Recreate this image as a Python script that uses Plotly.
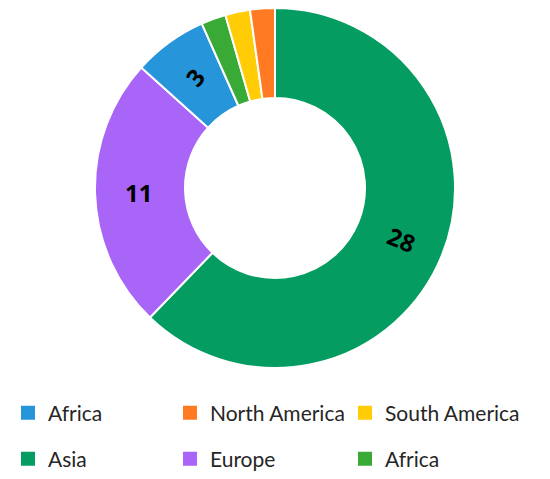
import math
import plotly.graph_objects as go

# slices, clockwise from 12 o'clock
labels = ["Asia", "Europe", "Africa", "Africa ", "South America", "North America"]
values = [28, 11, 3, 1, 1, 1]
colors = ["#059C62", "#A865F7", "#2795D9", "#3AAA37", "#FFCC05", "#FF7A22"]
shown = ["28", "11", "3", "", "", ""]
label_angles = [22, 0, -50, 0, 0, 0]

# legend entries in reading order (3 per row), as in the reference
legend_names = ["Africa", "North America", "South America", "Asia", "Europe", "Africa"]
legend_colors = ["#2795D9", "#FF7A22", "#FFCC05", "#059C62", "#A865F7", "#3AAA37"]

W, H = 550, 479
cx, cy, r_out = 267, 180, 180  # donut centre / radius in px
col_x = [0, 162, 337]          # legend column left edges (px)
row_y = [405, 451]             # legend row centres (px from top)

fig = go.Figure()

fig.add_trace(go.Pie(
    labels=labels,
    values=values,
    textinfo="none",
    hole=0.5,
    sort=False,
    direction="clockwise",
    rotation=0,
    marker=dict(colors=colors, line=dict(color="white", width=2)),
    domain=dict(x=[(cx - r_out) / W, (cx + r_out) / W],
                y=[(H - cy - r_out) / H, (H - cy + r_out) / H]),
    showlegend=False,
))

# value labels in the middle of the ring
total = sum(values)
acc = 0
for v, t, ang in zip(values, shown, label_angles):
    mid = (acc + v / 2) / total * 360
    acc += v
    if not t:
        continue
    rad = math.radians(mid)
    r_mid = r_out * 0.76
    fig.add_annotation(
        x=(cx + r_mid * math.sin(rad)) / W,
        y=(H - cy + r_mid * math.cos(rad)) / H,
        xref="paper", yref="paper", xanchor="center", yanchor="middle",
        text=t, showarrow=False, textangle=ang,
        font=dict(family="Open Sans", size=24, color="black", weight="bold"),
    )

# one small legend per entry so the grid spacing matches
layout_legends = {}
for i, (name, col) in enumerate(zip(legend_names, legend_colors)):
    key = "legend" if i == 0 else f"legend{i + 1}"
    fig.add_trace(go.Scatter(
        x=[None], y=[None], mode="markers", name=name,
        marker=dict(symbol="square", size=14, color=col),
        legend=key, showlegend=True,
    ))
    layout_legends[key] = dict(
        orientation="v", xanchor="left", yanchor="middle",
        x=col_x[i % 3] / W, y=(H - row_y[i // 3]) / H,
        font=dict(family="Lato", size=21, color="#262626"),
        bgcolor="rgba(0,0,0,0)",
    )

fig.update_layout(
    width=W,
    height=H,
    margin=dict(l=0, r=0, t=0, b=0),
    paper_bgcolor="white",
    plot_bgcolor="white",
    xaxis=dict(visible=False),
    yaxis=dict(visible=False),
    **layout_legends,
)

fig.write_html("out.html")
